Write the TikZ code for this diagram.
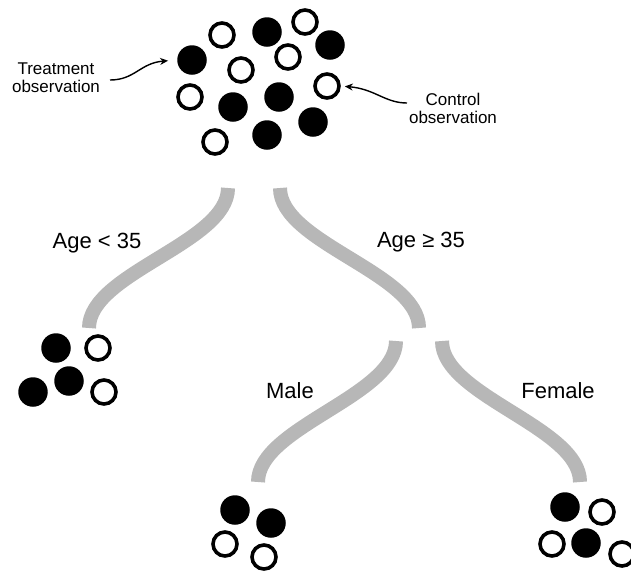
\documentclass[tikz,border=0pt]{standalone}
\usepackage{fontspec}
\setmainfont{Liberation Sans}
\usetikzlibrary{arrows.meta}
\tikzset{
  fullobs/.style={circle,fill=black,inner sep=0pt,minimum size=29.5pt},
  openobs/.style={circle,draw=black,line width=3.6pt,inner sep=0pt,minimum size=24pt},
  branch/.style={line width=14pt,draw={rgb,255:red,183;green,183;blue,183}},
  pointer/.style={line width=1.4pt,-{Stealth[length=8pt,width=7pt]}},
  smalllabel/.style={align=center,font=\fontsize{17}{18.5}\selectfont,inner sep=0pt},
  biglabel/.style={anchor=base,font=\fontsize{22}{24}\selectfont,inner sep=0pt}
}
\begin{document}
\begin{tikzpicture}[x=1pt,y=-1pt]
\useasboundingbox (0,0) rectangle (631,571);
% top cluster
\node[openobs] (a1) at (222,35) {};
\node[fullobs] (a2) at (267,32) {};
\node[openobs] (a3) at (305,22) {};
\node[fullobs] (a4) at (330,45) {};
\node[fullobs] (a5) at (192,60) {};
\node[openobs] (a6) at (288,57) {};
\node[openobs] (a7) at (241,70) {};
\node[openobs] (a8) at (327,86) {};
\node[openobs] (a9) at (190,97) {};
\node[fullobs] (a10) at (233,107) {};
\node[fullobs] (a11) at (279,97) {};
\node[fullobs] (a12) at (313,122) {};
\node[openobs] (a13) at (215,142) {};
\node[fullobs] (a14) at (267,135) {};
% annotations
\node[smalllabel] (tlab) at (56,77.5) {Treatment\\observation};
\node[smalllabel] (clab) at (453,108.5) {Control\\observation};
\coordinate (tstart) at (110,80);
\coordinate (cstart) at (407,103);
\draw[pointer,shorten >=9pt] (tstart) .. controls (135,80) and (140,63) .. (a5.west);
\draw[pointer,shorten >=4pt] (cstart) .. controls (385,103) and (375,89) .. (a8.east);
% branches level 1
\coordinate (l1a) at (228,188);
\coordinate (l1b) at (89,328);
\coordinate (r1a) at (280,188);
\coordinate (r1b) at (419,328);
\draw[branch] (l1a) .. controls (228,243) and (89,273) .. (l1b);
\draw[branch] (r1a) .. controls (280,243) and (419,273) .. (r1b);
\node[biglabel] (lage) at (97,248) {Age < 35};
\node[biglabel] (rage) at (421,247) {Age ≥ 35};
% branches level 2
\coordinate (m2a) at (396,341);
\coordinate (m2b) at (258,482);
\coordinate (f2a) at (442,341);
\coordinate (f2b) at (580,482);
\draw[branch] (m2a) .. controls (396,396) and (258,427) .. (m2b);
\draw[branch] (f2a) .. controls (442,396) and (580,427) .. (f2b);
\node[biglabel] (male) at (290,398) {Male};
\node[biglabel] (female) at (558,398) {Female};
% left leaf
\node[fullobs] (b1) at (56,348) {};
\node[openobs] (b2) at (98,348) {};
\node[fullobs] (b3) at (69,381) {};
\node[fullobs] (b4) at (33,392) {};
\node[openobs] (b5) at (104,392) {};
% male leaf
\node[fullobs] (c1) at (235,510) {};
\node[fullobs] (c2) at (271,523) {};
\node[openobs] (c3) at (225,544) {};
\node[openobs] (c4) at (264,557) {};
% female leaf
\node[fullobs] (d1) at (565,507) {};
\node[openobs] (d2) at (602,512) {};
\node[openobs] (d3) at (552,544) {};
\node[fullobs] (d4) at (586,543) {};
\node[openobs] (d5) at (622,554) {};
\end{tikzpicture}
\end{document}
